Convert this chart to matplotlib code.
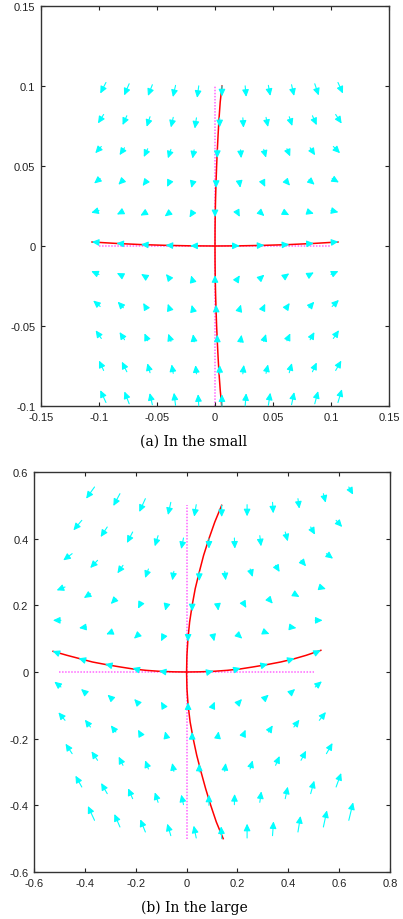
import numpy as np
import matplotlib
matplotlib.use("Agg")
import matplotlib.pyplot as plt

# ---- panel (a): in the small ----
a_tail_x = [
    [-0.094, -0.074, -0.054, -0.034, -0.014, 0.006, 0.026, 0.046, 0.066, 0.086, 0.106],
    [-0.096, -0.076, -0.056, -0.036, -0.016, 0.004, 0.024, 0.044, 0.064, 0.084, 0.104],
    [-0.098, -0.078, -0.058, -0.038, -0.018, 0.002, 0.022, 0.042, 0.062, 0.082, 0.102],
    [-0.099, -0.079, -0.059, -0.039, -0.019, 0.001, 0.021, 0.041, 0.061, 0.081, 0.101],
    [-0.1, -0.08, -0.06, -0.04, -0.02, 0.0, 0.02, 0.04, 0.06, 0.08, 0.1],
    [-0.1, -0.08, -0.06, -0.04, -0.02, 0.0, 0.02, 0.04, 0.06, 0.08, 0.1],
    [-0.1, -0.08, -0.06, -0.04, -0.02, 0.0, 0.02, 0.04, 0.06, 0.08, 0.1],
    [-0.099, -0.079, -0.059, -0.039, -0.019, 0.001, 0.021, 0.041, 0.061, 0.081, 0.101],
    [-0.098, -0.078, -0.058, -0.038, -0.018, 0.002, 0.022, 0.042, 0.062, 0.082, 0.102],
    [-0.096, -0.076, -0.056, -0.036, -0.016, 0.004, 0.024, 0.044, 0.064, 0.084, 0.104],
    [-0.094, -0.074, -0.054, -0.034, -0.014, 0.006, 0.026, 0.046, 0.066, 0.086, 0.106],
]
a_tail_y = [
    [0.1022, 0.1014, 0.1008, 0.1004, 0.1001, 0.1, 0.1001, 0.1004, 0.1008, 0.1014, 0.1022],
    [0.0822, 0.0814, 0.0808, 0.0804, 0.0801, 0.08, 0.0801, 0.0804, 0.0808, 0.0814, 0.0822],
    [0.0622, 0.0614, 0.0608, 0.0604, 0.0601, 0.06, 0.0601, 0.0604, 0.0608, 0.0614, 0.0622],
    [0.0422, 0.0414, 0.0408, 0.0404, 0.0401, 0.04, 0.0401, 0.0404, 0.0408, 0.0414, 0.0422],
    [0.0222, 0.0214, 0.0208, 0.0204, 0.0201, 0.02, 0.0201, 0.0204, 0.0208, 0.0214, 0.0222],
    [0.0022, 0.0014, 0.0008, 0.0004, 0.0001, 0.0, 0.0001, 0.0004, 0.0008, 0.0014, 0.0022],
    [-0.0178, -0.0186, -0.0192, -0.0196, -0.0199, -0.02, -0.0199, -0.0196, -0.0192, -0.0186, -0.0178],
    [-0.0378, -0.0386, -0.0392, -0.0396, -0.0399, -0.04, -0.0399, -0.0396, -0.0392, -0.0386, -0.0378],
    [-0.0578, -0.0586, -0.0592, -0.0596, -0.0599, -0.06, -0.0599, -0.0596, -0.0592, -0.0586, -0.0578],
    [-0.0778, -0.0786, -0.0792, -0.0796, -0.0799, -0.08, -0.0799, -0.0796, -0.0792, -0.0786, -0.0778],
    [-0.0978, -0.0986, -0.0992, -0.0996, -0.0999, -0.1, -0.0999, -0.0996, -0.0992, -0.0986, -0.0978],
]
a_u = [
    [-0.0049, -0.0043, -0.0038, -0.0023, -0.0014, 0.0, 0.0009, 0.0017, 0.0022, 0.0034, 0.0043],
    [-0.0049, -0.0037, -0.0029, -0.002, -0.0014, 0.0, 0.0006, 0.0017, 0.0026, 0.0037, 0.0052],
    [-0.0052, -0.0043, -0.0034, -0.0026, -0.0014, 0.0, 0.0006, 0.002, 0.0028, 0.0043, 0.0058],
    [-0.0052, -0.0043, -0.0034, -0.0023, -0.0014, 0.0, 0.0008, 0.0023, 0.0037, 0.0049, 0.0058],
    [-0.0067, -0.0046, -0.0043, -0.0034, -0.002, 0.0, 0.0014, 0.0026, 0.004, 0.0052, 0.0064],
    [-0.0062, -0.005, -0.0038, -0.0026, -0.0013, 0.0, 0.0013, 0.0026, 0.004, 0.0052, 0.0064],
    [-0.0067, -0.0046, -0.0037, -0.0023, -0.0006, 0.0, 0.0014, 0.0026, 0.004, 0.0052, 0.0064],
    [-0.006, -0.0049, -0.0029, -0.0017, -0.0011, 0.0, 0.0014, 0.0023, 0.0034, 0.0046, 0.0058],
    [-0.0049, -0.0043, -0.0028, -0.0023, -0.0009, 0.0, 0.0009, 0.002, 0.0029, 0.0037, 0.0049],
    [-0.004, -0.0043, -0.0023, -0.0014, -0.0008, 0.0, 0.0009, 0.0017, 0.0023, 0.0037, 0.0049],
    [-0.0049, -0.0041, -0.0023, -0.0014, -0.0006, 0.0, 0.0009, 0.0017, 0.0023, 0.0029, 0.0034],
]
a_v = [
    [-0.0069, -0.0073, -0.007, -0.0073, -0.0075, -0.0065, -0.0069, -0.0066, -0.007, -0.0073, -0.0069],
    [-0.0056, -0.0058, -0.0063, -0.0063, -0.0067, -0.0058, -0.0062, -0.006, -0.0058, -0.0059, -0.0057],
    [-0.0042, -0.0046, -0.0052, -0.0056, -0.0054, -0.005, -0.0052, -0.0052, -0.0048, -0.0047, -0.0042],
    [-0.0031, -0.0031, -0.0033, -0.0035, -0.0038, -0.0037, -0.0037, -0.0035, -0.0031, -0.0031, -0.0025],
    [-0.0014, -0.0017, -0.0018, -0.0019, -0.0023, -0.002, -0.0019, -0.0017, -0.0015, -0.0012, -0.0011],
    [0.0004, 0.0003, 0.0002, 0.0001, 0.0, 0.0, 0.0, 0.0001, 0.0002, 0.0003, 0.0005],
    [0.0021, 0.0017, 0.0017, 0.0021, 0.0015, 0.0018, 0.0016, 0.0017, 0.0021, 0.0021, 0.0021],
    [0.0037, 0.0038, 0.0036, 0.0035, 0.0031, 0.0033, 0.0033, 0.0035, 0.0036, 0.0038, 0.0041],
    [0.0051, 0.0048, 0.0046, 0.0048, 0.0048, 0.0046, 0.0044, 0.0046, 0.0046, 0.0048, 0.0052],
    [0.0062, 0.0063, 0.0059, 0.0056, 0.0054, 0.0056, 0.0056, 0.0056, 0.006, 0.0058, 0.0062],
    [0.0077, 0.0077, 0.0073, 0.0079, 0.0073, 0.0073, 0.0079, 0.0079, 0.0079, 0.0079, 0.0083],
]
a_curve_h_x = [-0.106, -0.085, -0.064, -0.042, -0.021, 0.0, 0.021, 0.042, 0.064, 0.085, 0.106]
a_curve_h_y = [0.0025, 0.0016, 0.0009, 0.0004, 0.0001, 0.0, 0.0001, 0.0004, 0.0009, 0.0016, 0.0025]
a_curve_v_x = [0.0058, 0.0045, 0.0035, 0.0027, 0.002, 0.0014, 0.0009, 0.0005, 0.0002, 0.00005, 0.0,
               0.00005, 0.0002, 0.0005, 0.0009, 0.0014, 0.002, 0.0027, 0.0035, 0.0045, 0.006]
a_curve_v_y = [-0.1, -0.09, -0.08, -0.07, -0.06, -0.05, -0.04, -0.03, -0.02, -0.01, 0.0,
               0.01, 0.02, 0.03, 0.04, 0.05, 0.06, 0.07, 0.08, 0.09, 0.1]
a_axis_h = [-0.1, 0.1]
a_axis_v = [-0.1, 0.1]
a_xticks = [-0.15, -0.1, -0.05, 0, 0.05, 0.1, 0.15]
a_xlabels = ["-0.15", "-0.1", "-0.05", "0", "0.05", "0.1", "0.15"]
a_yticks = [-0.1, -0.05, 0, 0.05, 0.1, 0.15]
a_ylabels = ["-0.1", "-0.05", "0", "0.05", "0.1", "0.15"]

# ---- panel (b): in the large ----
b_tail_x = [
    [-0.362, -0.262, -0.162, -0.062, 0.038, 0.138, 0.238, 0.338, 0.438, 0.538, 0.638],
    [-0.412, -0.312, -0.212, -0.112, -0.012, 0.088, 0.188, 0.288, 0.388, 0.488, 0.588],
    [-0.45, -0.35, -0.25, -0.15, -0.05, 0.05, 0.15, 0.25, 0.35, 0.45, 0.55],
    [-0.478, -0.378, -0.278, -0.178, -0.078, 0.022, 0.122, 0.222, 0.322, 0.422, 0.522],
    [-0.494, -0.394, -0.294, -0.194, -0.094, 0.006, 0.106, 0.206, 0.306, 0.406, 0.506],
    [-0.5, -0.4, -0.3, -0.2, -0.1, 0.0, 0.1, 0.2, 0.3, 0.4, 0.5],
    [-0.494, -0.394, -0.294, -0.194, -0.094, 0.006, 0.106, 0.206, 0.306, 0.406, 0.506],
    [-0.478, -0.378, -0.278, -0.178, -0.078, 0.022, 0.122, 0.222, 0.322, 0.422, 0.522],
    [-0.45, -0.35, -0.25, -0.15, -0.05, 0.05, 0.15, 0.25, 0.35, 0.45, 0.55],
    [-0.412, -0.312, -0.212, -0.112, -0.012, 0.088, 0.188, 0.288, 0.388, 0.488, 0.588],
    [-0.362, -0.262, -0.162, -0.062, 0.038, 0.138, 0.238, 0.338, 0.438, 0.538, 0.638],
]
b_tail_y = [
    [0.555, 0.535, 0.52, 0.509, 0.502, 0.5, 0.502, 0.509, 0.52, 0.535, 0.555],
    [0.455, 0.435, 0.42, 0.409, 0.402, 0.4, 0.402, 0.409, 0.42, 0.435, 0.455],
    [0.355, 0.335, 0.32, 0.309, 0.302, 0.3, 0.302, 0.309, 0.32, 0.335, 0.355],
    [0.255, 0.235, 0.22, 0.209, 0.202, 0.2, 0.202, 0.209, 0.22, 0.235, 0.255],
    [0.155, 0.135, 0.12, 0.109, 0.102, 0.1, 0.102, 0.109, 0.12, 0.135, 0.155],
    [0.055, 0.035, 0.02, 0.009, 0.002, 0.0, 0.002, 0.009, 0.02, 0.035, 0.055],
    [-0.045, -0.065, -0.08, -0.091, -0.098, -0.1, -0.098, -0.091, -0.08, -0.065, -0.045],
    [-0.145, -0.165, -0.18, -0.191, -0.198, -0.2, -0.198, -0.191, -0.18, -0.165, -0.145],
    [-0.245, -0.265, -0.28, -0.291, -0.298, -0.3, -0.298, -0.291, -0.28, -0.265, -0.245],
    [-0.345, -0.365, -0.38, -0.391, -0.398, -0.4, -0.398, -0.391, -0.38, -0.365, -0.345],
    [-0.445, -0.465, -0.48, -0.491, -0.498, -0.5, -0.498, -0.491, -0.48, -0.465, -0.445],
]
b_u = [
    [-0.033, -0.026, -0.024, -0.011, -0.008, 0.0, 0.0, 0.003, 0.0055, 0.009, 0.017],
    [-0.033, -0.026, -0.0225, -0.013, -0.009, 0.0, 0.002, 0.005, 0.01, 0.017, 0.024],
    [-0.035, -0.029, -0.022, -0.013, -0.006, 0.0, 0.004, 0.01, 0.016, 0.02, 0.026],
    [-0.033, -0.026, -0.02, -0.013, -0.006, 0.0, 0.003, 0.013, 0.017, 0.022, 0.026],
    [-0.0315, -0.029, -0.022, -0.013, -0.0066, 0.0, 0.003, 0.013, 0.02, 0.026, 0.029],
    [-0.027, -0.025, -0.021, -0.013, -0.009, 0.0, 0.006, 0.013, 0.02, 0.025, 0.028],
    [-0.026, -0.021, -0.017, -0.012, -0.0066, 0.0, 0.005, 0.012, 0.017, 0.021, 0.026],
    [-0.026, -0.022, -0.02, -0.013, -0.0066, 0.0, 0.004, 0.01, 0.017, 0.022, 0.026],
    [-0.026, -0.024, -0.017, -0.013, -0.0066, 0.0, 0.004, 0.01, 0.016, 0.02, 0.024],
    [-0.025, -0.024, -0.018, -0.013, -0.009, 0.0, 0.001, 0.006, 0.01, 0.014, 0.02],
    [-0.026, -0.022, -0.02, -0.014, -0.01, -0.002, 0.0, 0.004, 0.01, 0.014, 0.017],
]
b_v = [
    [-0.035, -0.037, -0.04, -0.038, -0.036, -0.035, -0.035, -0.033, -0.03, -0.027, -0.023],
    [-0.03, -0.03, -0.033, -0.032, -0.033, -0.03, -0.032, -0.032, -0.028, -0.023, -0.02],
    [-0.02, -0.023, -0.024, -0.027, -0.027, -0.027, -0.027, -0.024, -0.02, -0.018, -0.015],
    [-0.01, -0.013, -0.016, -0.019, -0.018, -0.018, -0.018, -0.017, -0.015, -0.01, -0.006],
    [0.0, -0.003, -0.007, -0.009, -0.01, -0.009, -0.01, -0.009, -0.006, -0.003, 0.0],
    [0.008, 0.006, 0.004, 0.003, 0.001, 0.0, 0.001, 0.003, 0.004, 0.006, 0.01],
    [0.016, 0.014, 0.012, 0.01, 0.009, 0.009, 0.009, 0.01, 0.012, 0.014, 0.017],
    [0.024, 0.022, 0.02, 0.018, 0.02, 0.02, 0.02, 0.018, 0.02, 0.022, 0.025],
    [0.03, 0.027, 0.026, 0.026, 0.025, 0.025, 0.025, 0.026, 0.028, 0.029, 0.032],
    [0.034, 0.032, 0.031, 0.03, 0.03, 0.032, 0.032, 0.033, 0.036, 0.039, 0.042],
    [0.043, 0.039, 0.038, 0.036, 0.037, 0.037, 0.043, 0.043, 0.048, 0.05, 0.054],
]
b_curve_h_x = [-0.525, -0.47, -0.42, -0.37, -0.315, -0.26, -0.21, -0.16, -0.105, -0.05, 0.0,
               0.05, 0.105, 0.16, 0.21, 0.26, 0.315, 0.37, 0.42, 0.47, 0.528]
b_curve_h_y = [0.062, 0.05, 0.04, 0.03, 0.022, 0.015, 0.009, 0.005, 0.002, 0.0005, 0.0,
               0.0005, 0.002, 0.005, 0.009, 0.015, 0.022, 0.03, 0.039, 0.05, 0.065]
b_curve_v_x = [0.144, 0.117, 0.095, 0.075, 0.057, 0.04, 0.026, 0.014, 0.006, 0.0015, 0.0,
               0.0014, 0.0055, 0.012, 0.022, 0.034, 0.05, 0.067, 0.088, 0.111, 0.138]
b_curve_v_y = [-0.5, -0.45, -0.4, -0.35, -0.3, -0.25, -0.2, -0.15, -0.1, -0.05, 0.0,
               0.05, 0.1, 0.15, 0.2, 0.25, 0.3, 0.35, 0.4, 0.45, 0.5]
b_axis_h = [-0.5, 0.5]
b_axis_v = [-0.5, 0.5]
b_xticks = [-0.6, -0.4, -0.2, 0, 0.2, 0.4, 0.6, 0.8]
b_xlabels = ["-0.6", "-0.4", "-0.2", "0", "0.2", "0.4", "0.6", "0.8"]
b_yticks = [-0.6, -0.4, -0.2, 0, 0.2, 0.4, 0.6]
b_ylabels = ["-0.6", "-0.4", "-0.2", "0", "0.2", "0.4", "0.6"]

CYAN = "#00ffff"
RED = "#ff0000"
MAGENTA = "#ff66ff"


def draw_panel(ax, tx, ty, u, v, hx, hy, vx, vy, axh, axv, xlim, ylim,
               xticks, xlabels, yticks, ylabels):
    ax.plot(axh, [0, 0], color=MAGENTA, lw=1.1, ls=(0, (1, 1)), zorder=1)
    ax.plot([0, 0], axv, color=MAGENTA, lw=1.1, ls=(0, (1, 1)), zorder=1)
    ax.plot(hx, hy, color=RED, lw=1.1, zorder=2)
    ax.plot(vx, vy, color=RED, lw=1.1, zorder=2)
    tx, ty, u, v = map(np.asarray, (tx, ty, u, v))
    for x0, y0, du, dv in zip(tx.ravel(), ty.ravel(), u.ravel(), v.ravel()):
        ax.annotate("", xy=(x0 + du, y0 + dv), xytext=(x0, y0), zorder=3,
                    arrowprops=dict(arrowstyle="-|>,head_length=0.38,head_width=0.18",
                                    color=CYAN, lw=0.8, shrinkA=0, shrinkB=0,
                                    mutation_scale=11))
    ax.set_xlim(*xlim)
    ax.set_ylim(*ylim)
    ax.set_xticks(xticks)
    ax.set_xticklabels(xlabels)
    ax.set_yticks(yticks)
    ax.set_yticklabels(ylabels)
    ax.tick_params(direction="in", top=True, right=True, length=3.2, width=0.8,
                   labelsize=8, pad=4, colors="#222222")
    for lab in ax.get_xticklabels() + ax.get_yticklabels():
        lab.set_family("Liberation Sans")
    for s in ax.spines.values():
        s.set_linewidth(1.0)
        s.set_color("#333333")


fig = plt.figure(figsize=(4.03, 9.2), dpi=100)
ax1 = fig.add_axes([41 / 403, 1 - 407 / 920, 348 / 403, 400 / 920])
ax2 = fig.add_axes([34 / 403, 1 - 873 / 920, 356 / 403, 400 / 920])

draw_panel(ax1, a_tail_x, a_tail_y, a_u, a_v, a_curve_h_x, a_curve_h_y,
           a_curve_v_x, a_curve_v_y, a_axis_h, a_axis_v, (-0.15, 0.15), (-0.1, 0.15),
           a_xticks, a_xlabels, a_yticks, a_ylabels)
draw_panel(ax2, b_tail_x, b_tail_y, b_u, b_v, b_curve_h_x, b_curve_h_y,
           b_curve_v_x, b_curve_v_y, b_axis_h, b_axis_v, (-0.6, 0.8), (-0.6, 0.6),
           b_xticks, b_xlabels, b_yticks, b_ylabels)

fig.text(194 / 403, 1 - 442 / 920, "(a) In the small", ha="center", va="center",
         fontsize=10, family="DejaVu Serif")
fig.text(194 / 403, 1 - 908 / 920, "(b) In the large", ha="center", va="center",
         fontsize=10, family="DejaVu Serif")

fig.savefig("out.png", dpi=100)
